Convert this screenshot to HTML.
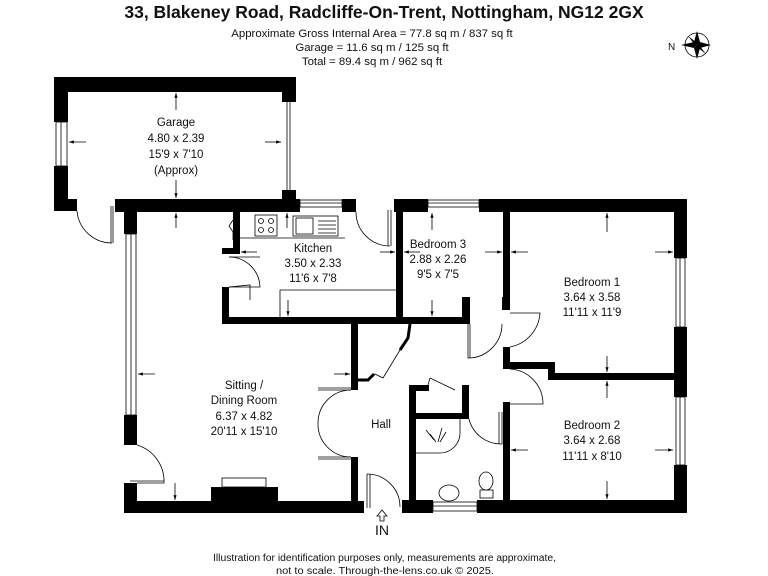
<!DOCTYPE html>
<html><head><style>
html,body{margin:0;padding:0;background:#fff}
svg{display:block}
text{font-family:"Liberation Sans",Arial,sans-serif;fill:#111}
</style></head><body>
<svg width="768" height="576" viewBox="0 0 768 576" xmlns="http://www.w3.org/2000/svg">
<defs><marker id="a" viewBox="0 0 6 6" refX="6" refY="3" markerWidth="6" markerHeight="6" orient="auto"><path d="M0 1 L6 3 L0 5 Z" fill="#000"/></marker></defs>
<text x="384" y="18" font-size="17.5" font-weight="bold" text-anchor="middle">33, Blakeney Road, Radcliffe-On-Trent, Nottingham, NG12 2GX</text>
<g font-size="11.4" text-anchor="middle">
<text x="372" y="37">Approximate Gross Internal Area = 77.8 sq m / 837 sq ft</text>
<text x="372" y="51">Garage = 11.6 sq m / 125 sq ft</text>
<text x="372" y="65">Total = 89.4 sq m / 962 sq ft</text>
</g>
<text x="668" y="50" font-size="10">N</text>
<g transform="translate(697,45)">
<circle r="12" fill="none" stroke="#000" stroke-width="0.8"/>
<polygon points="-16,0 -3,-3 0,0 -3,3" fill="#000"/>
<polygon points="14,0 3,-3 0,0 3,3" fill="#000"/>
<polygon points="0,-14 -3,-3 0,0 3,-3" fill="#000"/>
<polygon points="0,14 -3,3 0,0 3,3" fill="#000"/>
<polygon points="-9,-9 -2,0 0,0 0,-2" fill="#000"/>
<polygon points="9,9 2,0 0,0 0,2" fill="#000"/>
</g>

<g fill="#000">
<rect x="54" y="77" width="242" height="15"/>
<rect x="54" y="77" width="14" height="45"/>
<rect x="54" y="166" width="14" height="45"/>
<rect x="54" y="199" width="23" height="12"/>
<rect x="282" y="92" width="14" height="10"/>
<rect x="282" y="190" width="14" height="10"/>
<rect x="115" y="199" width="185" height="13"/>
<rect x="342" y="199" width="14" height="13"/>
<rect x="394" y="199" width="34" height="13"/>
<rect x="479" y="199" width="208" height="13"/>
<rect x="674" y="199" width="13" height="59"/>
<rect x="674" y="327" width="13" height="70"/>
<rect x="674" y="465" width="13" height="48"/>
<rect x="477" y="500" width="210" height="13"/>
<rect x="402" y="500" width="31" height="13"/>
<rect x="124" y="501" width="240" height="12"/>
<rect x="124" y="212" width="13" height="22"/>
<rect x="124" y="415" width="13" height="30"/>
<rect x="124" y="483" width="13" height="30"/>
<rect x="211" y="487" width="67" height="15"/>
<rect x="351" y="322" width="7" height="68"/>
<rect x="351" y="457" width="7" height="45"/>
<rect x="222" y="317" width="248" height="7"/>
<rect x="222" y="287" width="7" height="37"/>
<rect x="233" y="212" width="7" height="42"/>
<rect x="222" y="248" width="18" height="6"/>
<rect x="396" y="212" width="7" height="112"/>
<rect x="462" y="297" width="8" height="27"/>
<rect x="503" y="212" width="7" height="98"/>
<rect x="502" y="297" width="8" height="13"/>
<rect x="503" y="347" width="7" height="22"/>
<rect x="503" y="362" width="47" height="7"/>
<rect x="548" y="362" width="7" height="18"/>
<rect x="548" y="373" width="128" height="7"/>
<rect x="503" y="402" width="7" height="100"/>
<rect x="409" y="385" width="7" height="117"/>
<rect x="409" y="385" width="20" height="6"/>
<rect x="462" y="385" width="7" height="34"/>
<rect x="409" y="413" width="60" height="6"/>
</g>

<g fill="none" stroke="#000" stroke-width="0.8">
<rect x="56" y="122" width="11" height="44"/><line x1="61" y1="122" x2="61" y2="166"/>
<line x1="287" y1="102" x2="287" y2="190"/><line x1="290" y1="102" x2="290" y2="190"/>
<rect x="300" y="200" width="42" height="7"/><line x1="300" y1="203" x2="342" y2="203"/>
<rect x="428" y="200" width="51" height="7"/><line x1="428" y1="203" x2="479" y2="203"/>
<rect x="676" y="258" width="9" height="69"/><line x1="680" y1="258" x2="680" y2="327"/>
<rect x="676" y="397" width="9" height="68"/><line x1="680" y1="397" x2="680" y2="465"/>
<rect x="433" y="502" width="44" height="9"/><line x1="433" y1="506" x2="477" y2="506"/>
<rect x="126" y="234" width="10" height="181"/><line x1="131" y1="234" x2="131" y2="415"/>
<path d="M77 211 A35 35 0 0 0 112 243"/><line x1="111" y1="206" x2="111" y2="243"/><line x1="113" y1="206" x2="113" y2="243"/>
<path d="M356 212 A34 34 0 0 0 390 246"/><line x1="388" y1="210" x2="388" y2="246"/><line x1="391" y1="210" x2="391" y2="246"/>
<path d="M229 257 A31 31 0 0 1 260 287 L229 287"/><line x1="229" y1="257" x2="260" y2="257"/>
<path d="M229 287 L250 285 L250 300"/>
<path d="M233 220 L229 226 L233 232 L233 240"/>
<path d="M468 324 L468 358 A34 34 0 0 0 502 324"/><line x1="470" y1="324" x2="470" y2="358"/>
<path d="M510 347 A37 37 0 0 0 540 313 L510 313"/>
<path d="M510 369 A35 35 0 0 1 543 404 L510 404"/>
<path d="M469 419 A33 33 0 0 0 502 444 L502 412"/><line x1="499" y1="412" x2="499" y2="444"/>
<path d="M430 378 L455 390"/><line x1="430" y1="378" x2="428" y2="385"/>
<path d="M351 390 A33 33 0 0 0 318 423 A33 33 0 0 0 351 457"/>
<line x1="318" y1="390" x2="351" y2="390"/><line x1="318" y1="457" x2="351" y2="457"/>
<line x1="318" y1="388" x2="351" y2="388"/><line x1="318" y1="459" x2="351" y2="459"/>
<path d="M137 445 A38 38 0 0 1 164 483 L137 483"/><line x1="130" y1="481" x2="164" y2="481"/>
<path d="M367 474 A33 33 0 0 1 400 507"/><line x1="367" y1="474" x2="367" y2="508"/><line x1="370" y1="474" x2="370" y2="508"/>
<path d="M358 380 L368 380 L375 374 L383 378 L400 350"/>
<path d="M400 350 L408 338 L410 324" stroke-width="3"/>
<path d="M358 380 L368 380 L374 374" stroke-width="3"/>
<line x1="240" y1="238" x2="345" y2="238"/>
<rect x="255" y="215" width="22" height="21"/>
<circle cx="261" cy="221" r="2.5"/><circle cx="271" cy="221" r="2.5"/><circle cx="261" cy="230" r="2.5"/><circle cx="271" cy="230" r="2.5"/>
<rect x="293" y="216" width="45" height="20"/><rect x="296" y="218" width="17" height="16"/>
<line x1="318" y1="221" x2="336" y2="221"/><line x1="318" y1="225" x2="336" y2="225"/><line x1="318" y1="229" x2="336" y2="229"/><line x1="318" y1="233" x2="336" y2="233"/>
<polyline points="280,317 280,290 396,290"/>
<rect x="222" y="478" width="44" height="9"/>
<path d="M416 453 L440 453 A20 20 0 0 0 460 433 L460 419"/>
<ellipse cx="449" cy="493" rx="10" ry="8"/><ellipse cx="486" cy="481" rx="7" ry="9"/><rect x="480" y="490" width="13" height="8"/>
<path d="M426 430 L434 440 M442 428 L438 442 M430 434 L436 442 M446 432 L440 442"/>
<path d="M377 516 L382 510 L387 516 L384 516 L384 521 L380 521 L380 516 Z"/>
</g>

<g stroke="#000" stroke-width="0.8" marker-end="url(#a)">
<line x1="176" y1="110" x2="176" y2="93"/><line x1="176" y1="180" x2="176" y2="198"/><line x1="176" y1="228" x2="176" y2="213"/>
<line x1="86" y1="142" x2="69" y2="142"/><line x1="265" y1="142" x2="281" y2="142"/>
<line x1="287" y1="228" x2="287" y2="213"/>
<line x1="257" y1="252" x2="241" y2="252"/><line x1="380" y1="252" x2="395" y2="252"/>
<line x1="288" y1="300" x2="288" y2="316"/>
<line x1="420" y1="252" x2="404" y2="252"/><line x1="485" y1="252" x2="502" y2="252"/>
<line x1="432" y1="230" x2="432" y2="213"/><line x1="432" y1="300" x2="432" y2="316"/>
<line x1="528" y1="252" x2="511" y2="252"/><line x1="655" y1="252" x2="673" y2="252"/>
<line x1="607" y1="232" x2="607" y2="213"/><line x1="607" y1="356" x2="607" y2="372"/>
<line x1="607" y1="398" x2="607" y2="381"/><line x1="607" y1="481" x2="607" y2="499"/>
<line x1="528" y1="450" x2="511" y2="450"/><line x1="655" y1="450" x2="673" y2="450"/>
<line x1="155" y1="374" x2="138" y2="374"/><line x1="334" y1="374" x2="350" y2="374"/>
<line x1="175" y1="483" x2="175" y2="500"/>
</g>

<g font-size="11.5" text-anchor="middle">
<text x="176" y="126">Garage</text><text x="176" y="142">4.80 x 2.39</text><text x="176" y="158">15'9 x 7'10</text><text x="176" y="174">(Approx)</text>
<text x="313" y="252">Kitchen</text><text x="313" y="267">3.50 x 2.33</text><text x="313" y="282">11'6 x 7'8</text>
<text x="438" y="248">Bedroom 3</text><text x="438" y="263">2.88 x 2.26</text><text x="438" y="278">9'5 x 7'5</text>
<text x="592" y="286">Bedroom 1</text><text x="592" y="301">3.64 x 3.58</text><text x="592" y="316">11'11 x 11'9</text>
<text x="244" y="389">Sitting /</text><text x="244" y="404">Dining Room</text><text x="244" y="420">6.37 x 4.82</text><text x="244" y="435">20'11 x 15'10</text>
<text x="381" y="428">Hall</text>
<text x="592" y="429">Bedroom 2</text><text x="592" y="444">3.64 x 2.68</text><text x="592" y="460">11'11 x 8'10</text>
<text x="382" y="535" font-size="14">IN</text>
</g>
<g font-size="10">
<text x="213" y="561" textLength="343" lengthAdjust="spacingAndGlyphs">Illustration for identification purposes only, measurements are approximate,</text>
<text x="276" y="574" textLength="218" lengthAdjust="spacingAndGlyphs">not to scale. Through-the-lens.co.uk © 2025.</text>
</g>
</svg>
</body></html>
